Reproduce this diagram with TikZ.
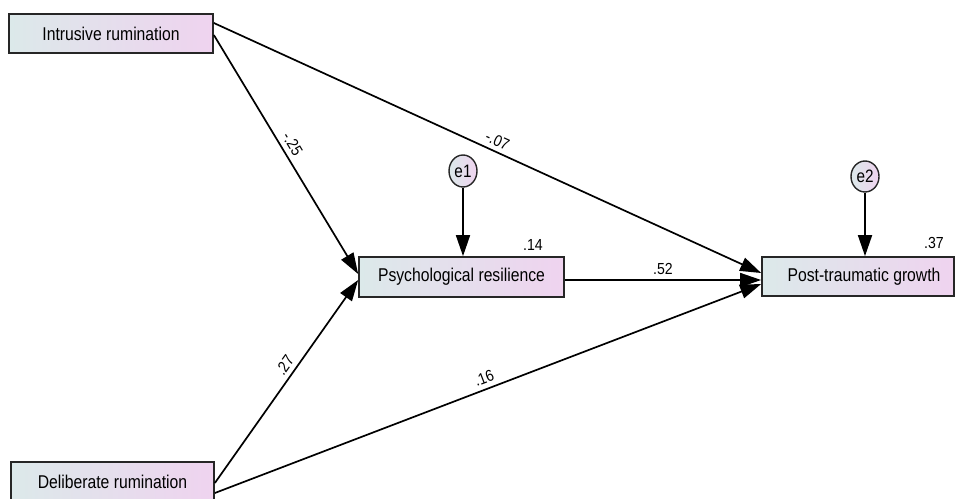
\documentclass[tikz,border=0pt]{standalone}
\usepackage{fontspec}
\setmainfont{Liberation Sans}
\usetikzlibrary{arrows.meta,shapes.geometric}
\newcommand{\boxtext}[1]{\scalebox{0.85}[1]{\fontsize{18.5}{20}\selectfont #1}}
\newcommand{\coef}[1]{\scalebox{0.88}[1]{\fontsize{16}{18}\selectfont #1}}
\definecolor{boxleft}{HTML}{DCE9EA}
\definecolor{boxright}{HTML}{EFD3EF}
\definecolor{edgegray}{HTML}{262626}
\begin{document}
\begin{tikzpicture}[x=1pt,y=-1pt,
  varbox/.style={rectangle, draw=edgegray, line width=1.7pt,
    left color=boxleft, right color=boxright,
    minimum height=39pt, inner sep=0pt},
  errvar/.style={ellipse, draw=edgegray, line width=1.4pt,
    left color=boxleft, right color=boxright,
    minimum width=28pt, minimum height=31pt, inner sep=0pt,
    font=\fontsize{18}{20}\selectfont},
  path/.style={line width=1.7pt, draw=black,
    -{Triangle[length=21pt,width=14pt]}},
  coefl/.style={sloped, above, inner sep=4.5pt}
]
\useasboundingbox (0,0) rectangle (955,498);

% observed variables
\node[varbox, minimum width=204pt] (IR) at (111,33.5) {\boxtext{Intrusive rumination}};
\node[varbox, minimum width=203pt] (DR) at (112.5,481.5) {\boxtext{Deliberate rumination}};
\node[varbox, minimum width=205pt, minimum height=40pt] (PR) at (461.5,277) {\boxtext{Psychological resilience}};
\node[varbox, minimum width=192pt] (PTG) at (858,276.5) {\hspace*{12pt}\boxtext{Post-traumatic growth}};

% error terms
\node[errvar, minimum height=32pt] (e1) at (463,171) {\scalebox{0.85}[1]{e1}};
\node[errvar] (e2) at (865,176.5) {\scalebox{0.85}[1]{e2}};

% squared multiple correlations
\node (r1) at (533,245) {\coef{.14}};
\node (r2) at (934,243) {\coef{.37}};

% paths
\draw[path] (e1.south) -- (PR.north -| e1.south);
\draw[path] (e2.south) -- (PTG.north -| e2.south);
\draw[path] ([yshift=-1.5pt]IR.east) -- node[coefl, pos=0.48] {\coef{-.25}} ([yshift=3pt]PR.west);
\draw[path] ([yshift=10.5pt]IR.east) -- node[coefl, pos=0.51] {\coef{-.07}} ([yshift=3.5pt]PTG.west);
\draw[path] ([yshift=-1.5pt]DR.east) -- node[coefl, pos=0.55] {\coef{.27}} ([yshift=-3pt]PR.west);
\draw[path] ([yshift=-11.5pt]DR.east) -- node[coefl, pos=0.5] {\coef{.16}} ([yshift=-7.5pt]PTG.west);
\draw[path] ([yshift=-3pt]PR.east) -- node[above, pos=0.5, inner sep=4pt] {\coef{.52}} ([yshift=-3.5pt]PTG.west);
\end{tikzpicture}
\end{document}
